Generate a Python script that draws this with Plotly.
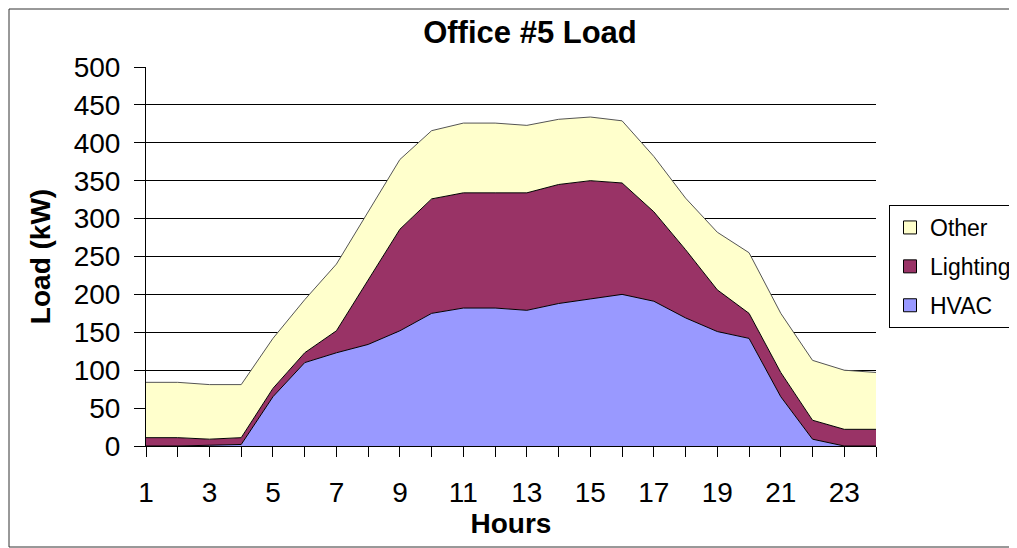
import plotly.graph_objects as go

hours = list(range(1, 25))
hvac = [0, 0, 1, 2, 65, 110, 123, 134, 152, 175, 182, 182, 179, 188, 194, 200, 191, 169, 151, 142, 65, 9, 0, 0]
lighting = [11, 11, 8, 9, 11, 13, 29, 85, 134, 151, 152, 152, 155, 157, 156, 147, 118, 90, 55, 33, 32, 25, 22, 22]
other = [73, 73, 72, 70, 66, 70, 88, 90, 92, 90, 92, 92, 89, 86, 84, 82, 73, 68, 76, 80, 78, 79, 78, 75]
x_tick_labels = [str(h) if h % 2 == 1 else "" for h in hours]
y_ticks = list(range(0, 501, 50))

FONT = "Liberation Sans, Arial, sans-serif"
COLORS = {"HVAC": "#9999FF", "Lighting": "#993366", "Other": "#FFFFCC"}

fig = go.Figure()
fig.add_trace(go.Scatter(x=hours, y=hvac, name="HVAC", stackgroup="one", mode="lines",
                         line=dict(color="#000000", width=1), fillcolor=COLORS["HVAC"],
                         showlegend=False))
fig.add_trace(go.Scatter(x=hours, y=lighting, name="Lighting", stackgroup="one", mode="lines",
                         line=dict(color="#000000", width=1), fillcolor=COLORS["Lighting"],
                         showlegend=False))
fig.add_trace(go.Scatter(x=hours, y=other, name="Other", stackgroup="one", mode="lines",
                         line=dict(color="#555555", width=1), fillcolor=COLORS["Other"],
                         showlegend=False))

# Legend entries with square swatches (Excel style)
for i, nm in enumerate(["Other", "Lighting", "HVAC"]):
    fig.add_trace(go.Scatter(x=[None], y=[None], name=nm, mode="markers", legendgroup=nm,
                             legendrank=i + 1,
                             marker=dict(symbol="square", size=13, color=COLORS[nm],
                                         line=dict(color="#000000", width=1))))

# Page has an 8px body margin; figure is sized/margined to compensate.
W, H = 1009, 540
L, T = 138, 59
PW, PH = 730, 379
fig.update_layout(
    width=W, height=H,
    margin=dict(l=L, r=W - L - PW, t=T, b=H - T - PH, autoexpand=False),
    paper_bgcolor="white", plot_bgcolor="white",
    font=dict(family=FONT, color="black"),
    title=dict(text="<b>Office #5 Load</b>", x=522 / W, xanchor="center",
               y=1 - 24 / H, yanchor="middle", font=dict(size=31, family=FONT)),
    showlegend=True,
    legend=dict(traceorder="grouped", x=(889 - 146) / PW, xanchor="left",
                y=(446 - 205) / PH, yanchor="top",
                bordercolor="black", borderwidth=1, bgcolor="white",
                font=dict(size=23, family=FONT), itemwidth=30, tracegroupgap=6),
    xaxis=dict(range=[1, 24], tickvals=hours, ticktext=x_tick_labels, ticks="outside",
               ticklen=10, tickcolor="black", showline=True, linecolor="black", linewidth=1,
               showgrid=False, zeroline=False, tickfont=dict(size=28, family=FONT),
               ticklabelstandoff=11,
               title=dict(text="<b>Hours</b>", font=dict(size=28, family=FONT), standoff=0)),
    yaxis=dict(range=[0, 500], tickvals=y_ticks, ticks="outside", ticklen=11, tickcolor="black",
               showline=True, linecolor="black", linewidth=1, showgrid=True, gridcolor="black",
               gridwidth=1, zeroline=False, tickfont=dict(size=28, family=FONT),
               ticklabelstandoff=8,
               title=dict(text="<b>Load (kW)</b>", font=dict(size=28, family=FONT), standoff=14)),
)

# Outer chart border
fig.add_shape(type="rect", xref="paper", yref="paper",
              x0=-(L - 1) / PW, x1=(W - L - 2) / PW,
              y0=-(H - T - PH - 1) / PH, y1=(PH + T - 1) / PH,
              line=dict(color="#333333", width=1), fillcolor="rgba(0,0,0,0)", layer="below")

fig.write_html("out.html")
